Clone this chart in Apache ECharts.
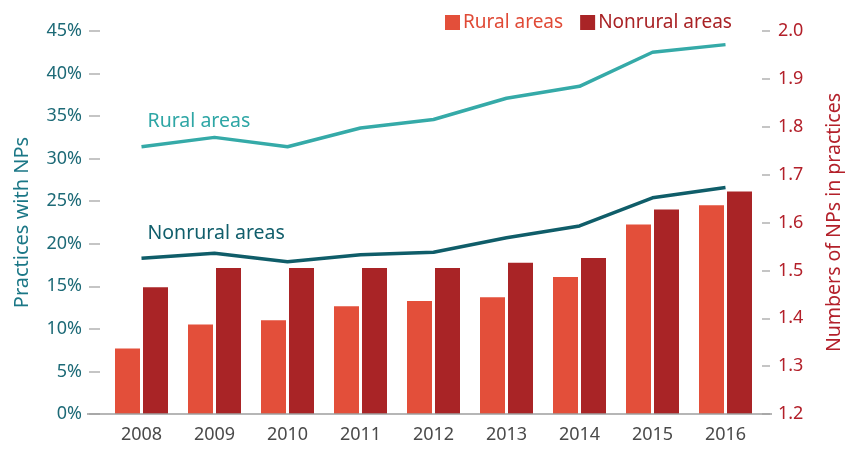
<!DOCTYPE html>
<html>
<head>
<meta charset="utf-8">
<script src="https://cdn.jsdelivr.net/npm/echarts@6/dist/echarts.min.js"></script>
<style>
  html, body { margin: 0; padding: 0; background: #fff; }
  #chart { width: 846px; height: 449px; }
</style>
</head>
<body>
<div id="chart"></div>
<script>
// data
var years = ['2008', '2009', '2010', '2011', '2012', '2013', '2014', '2015', '2016']
// numbers of NPs in practices (right axis, bars)
var ruralNum = [1.337, 1.387, 1.396, 1.425, 1.436, 1.444, 1.486, 1.596, 1.636]
var nonruralNum = [1.465, 1.505, 1.505, 1.505, 1.505, 1.516, 1.526, 1.627, 1.665]
// practices with NPs, % (left axis, lines)
var ruralPct = [31.4, 32.5, 31.4, 33.6, 34.6, 37.1, 38.5, 42.5, 43.4]
var nonruralPct = [18.3, 18.9, 17.9, 18.7, 19.0, 20.7, 22.1, 25.4, 26.6]

var font = 'Noto Sans'
var tickGray = '#b3b3b3'

var chart = echarts.init(document.getElementById('chart'))

chart.setOption({
  animation: false,
  textStyle: { fontFamily: font },
  grid: { left: 105, right: 84, top: 31, bottom: 35, outerBoundsMode: 'none' },
  legend: {
    data: [
      { name: 'Rural areas', textStyle: { color: '#e04a36' } },
      { name: 'Nonrural areas', textStyle: { color: '#a92225' } }
    ],
    left: 440,
    top: 8,
    itemWidth: 15,
    itemHeight: 15,
    itemGap: 17,
    icon: 'rect',
    textStyle: { fontSize: 19, fontFamily: font, padding: [0, 0, 0, -2] }
  },
  xAxis: {
    type: 'category',
    data: years,
    axisLine: { show: false },
    axisTick: { show: false },
    axisLabel: { color: '#4a4a4a', fontSize: 18, margin: 12 }
  },
  yAxis: [
    {
      type: 'value',
      min: 0,
      max: 45,
      interval: 5,
      offset: 5,
      name: 'Practices with NPs',
      nameLocation: 'middle',
      nameRotate: 90,
      nameGap: 68,
      nameTextStyle: { color: '#1b7786', fontSize: 20 },
      axisLine: { show: false },
      axisTick: { show: true, length: 11, lineStyle: { color: tickGray, width: 1.5 } },
      axisLabel: { color: '#1d6a77', fontSize: 18, margin: 18, formatter: '{value}%' },
      splitLine: { show: false }
    },
    {
      type: 'value',
      min: 1.2,
      max: 2.0,
      interval: 0.1,
      position: 'right',
      name: 'Numbers of NPs in practices',
      nameLocation: 'middle',
      nameRotate: 90,
      nameGap: 62,
      nameTextStyle: { color: '#b3202a', fontSize: 19.5 },
      axisLine: { show: false },
      axisTick: { show: true, length: 8, lineStyle: { color: tickGray, width: 1.5 } },
      axisLabel: {
        color: '#b3202a',
        fontSize: 18,
        margin: 16,
        formatter: function(v) { return v.toFixed(1) }
      },
      splitLine: { show: false }
    }
  ],
  graphic: [
    {
      type: 'line',
      shape: { x1: 87, y1: 414, x2: 772, y2: 414 },
      style: { stroke: '#9e9e9e', lineWidth: 1.5 },
      z: 10
    }
  ],
  series: [
    {
      name: 'Rural areas',
      type: 'bar',
      yAxisIndex: 1,
      data: ruralNum,
      barWidth: 25,
      barGap: '12%',
      itemStyle: { color: '#e34f3a' }
    },
    {
      name: 'Nonrural areas',
      type: 'bar',
      yAxisIndex: 1,
      data: nonruralNum,
      barWidth: 25,
      itemStyle: { color: '#a92426' }
    },
    {
      name: 'Rural share',
      type: 'line',
      yAxisIndex: 0,
      data: ruralPct,
      showSymbol: false,
      lineStyle: { color: '#35aaa8', width: 3.5 },
      z: 5,
      markPoint: {
        symbol: 'circle',
        symbolSize: 0,
        data: [{ coord: [0, ruralPct[0]] }],
        label: {
          show: true,
          position: [6, -35],
          formatter: 'Rural areas',
          color: '#2ea6a5',
          fontSize: 19.5,
          fontFamily: font
        }
      }
    },
    {
      name: 'Nonrural share',
      type: 'line',
      yAxisIndex: 0,
      data: nonruralPct,
      showSymbol: false,
      lineStyle: { color: '#0f5d69', width: 3.5 },
      z: 5,
      markPoint: {
        symbol: 'circle',
        symbolSize: 0,
        data: [{ coord: [0, nonruralPct[0]] }],
        label: {
          show: true,
          position: [6, -35],
          formatter: 'Nonrural areas',
          color: '#105e6b',
          fontSize: 19.5,
          fontFamily: font
        }
      }
    }
  ]
})
</script>
</body>
</html>
